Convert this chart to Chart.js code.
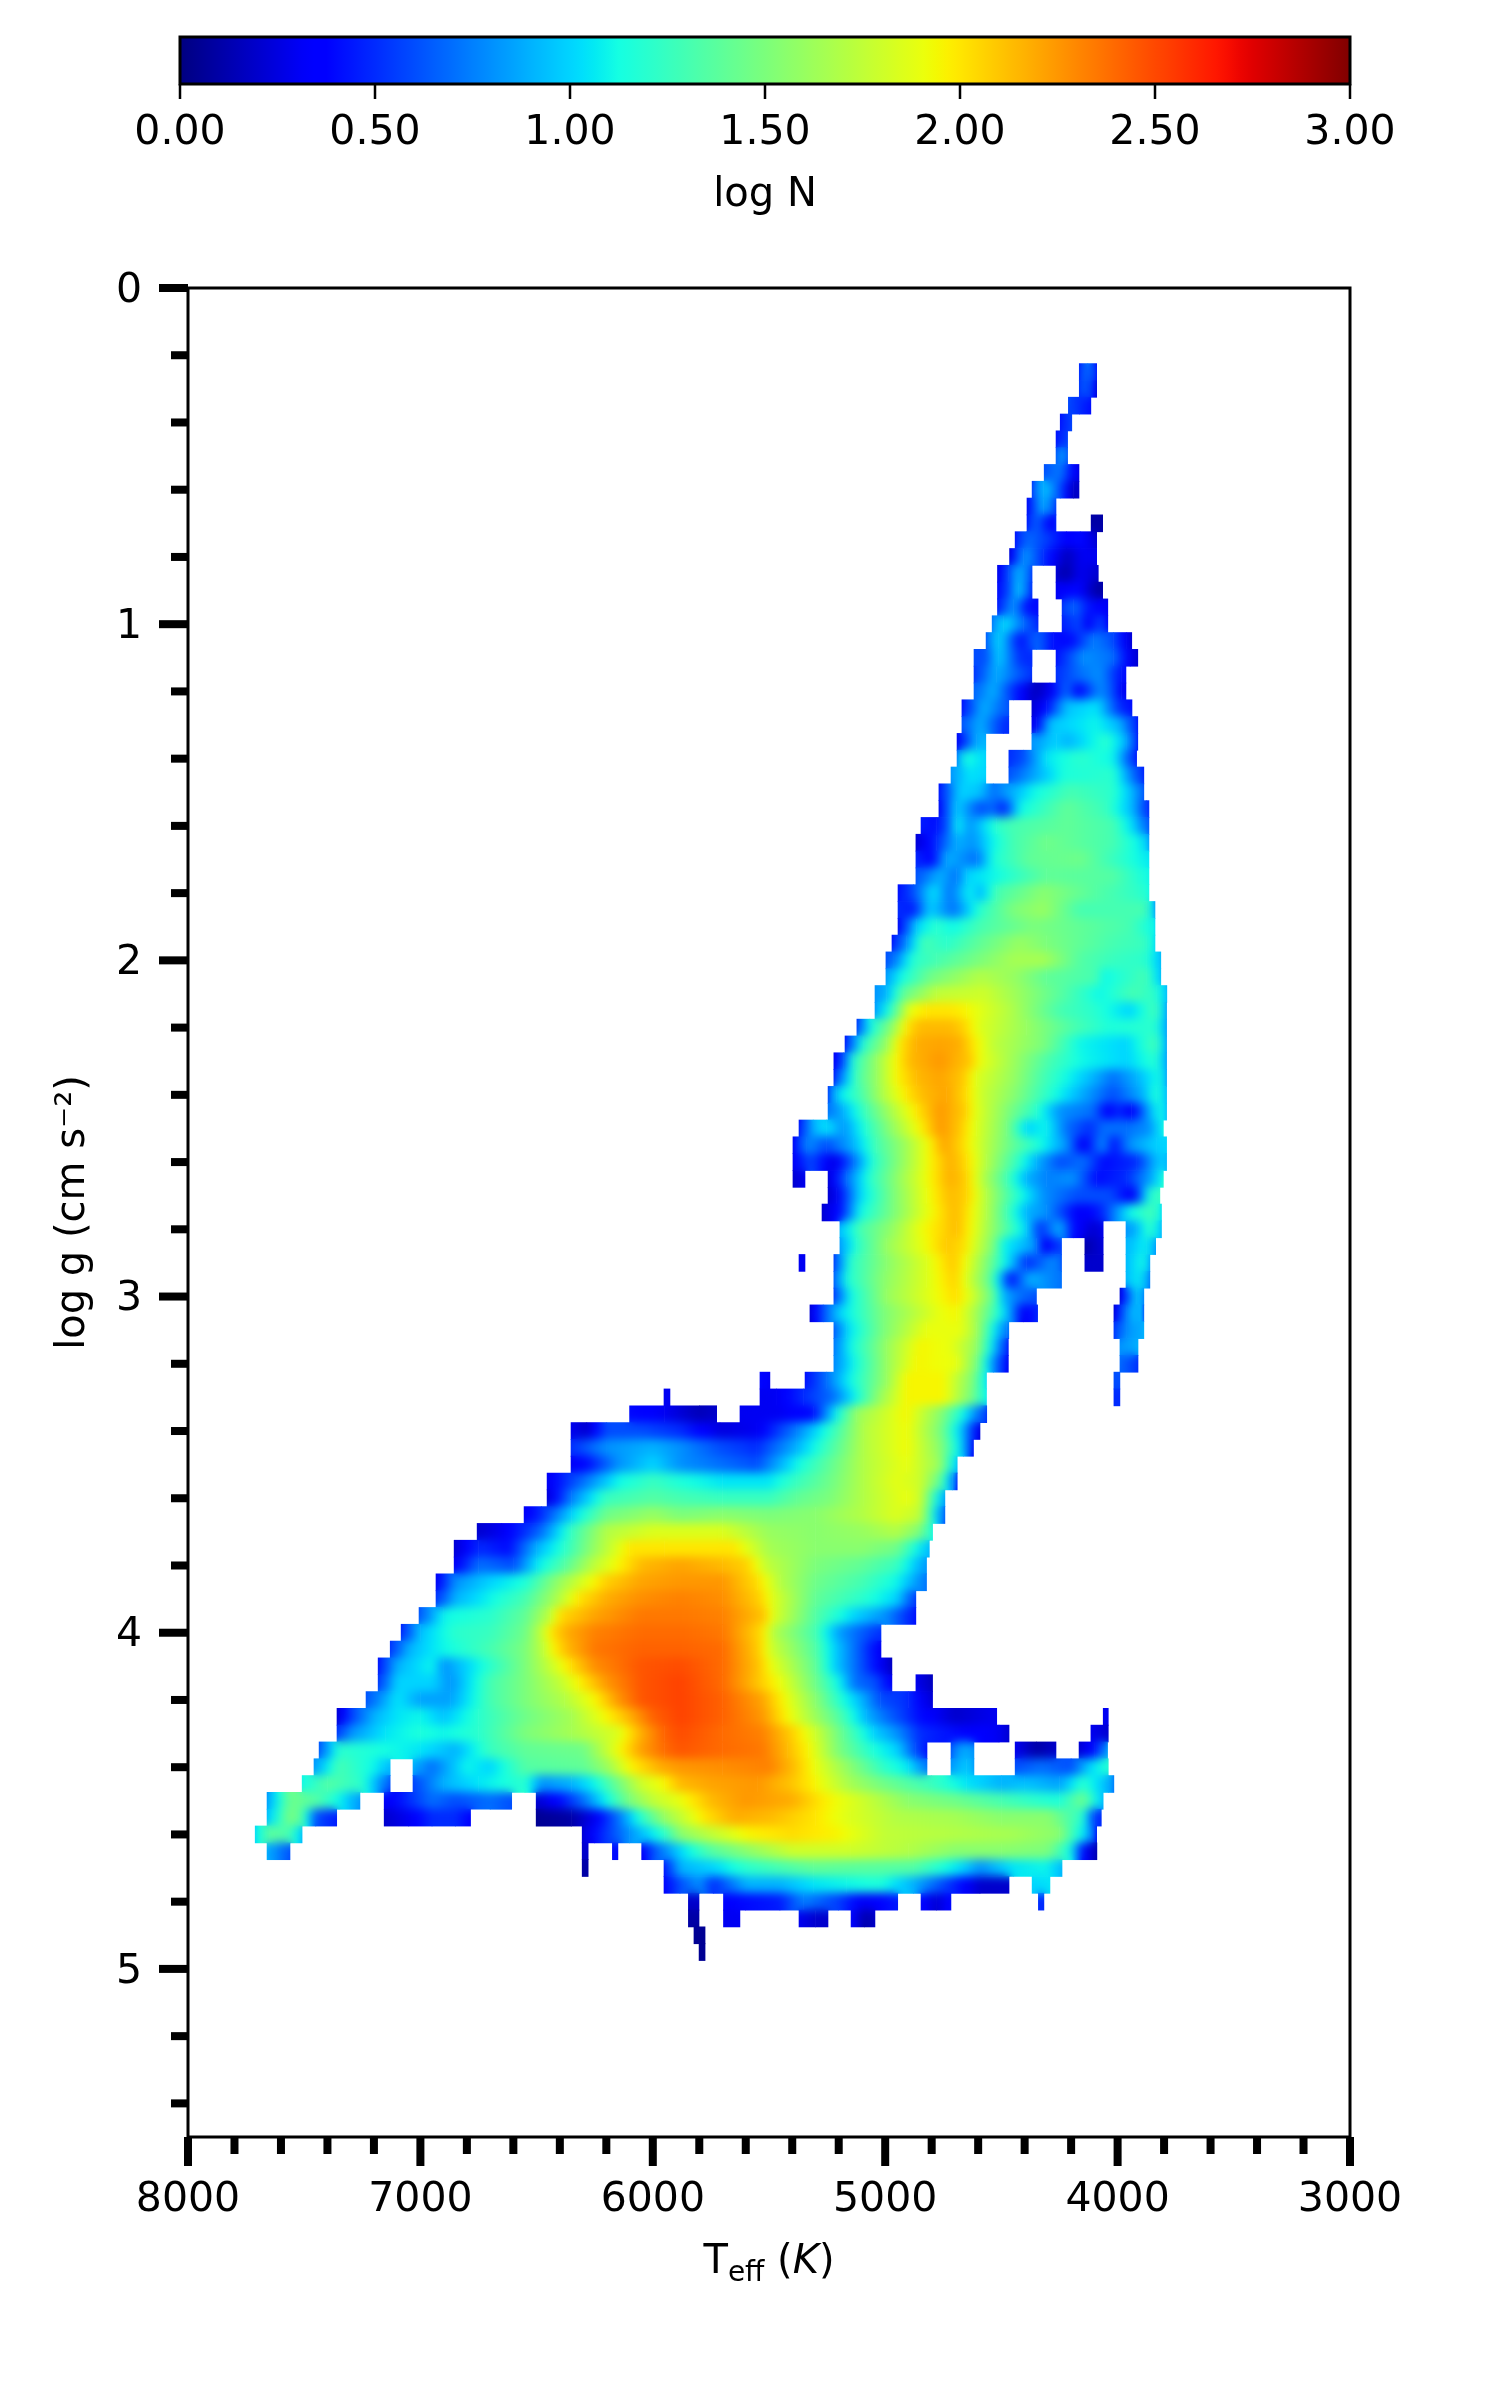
<!DOCTYPE html>
<html>
<head>
<meta charset="utf-8">
<script src="https://cdn.jsdelivr.net/npm/chart.js@4/dist/chart.umd.js"></script>
<style>
  html, body { margin: 0; padding: 0; background: #fff; }
  #wrap { position: relative; width: 1500px; height: 2400px; }
  canvas { position: absolute; left: 0; top: 0; }
</style>
</head>
<body>
<div id="wrap">
  <canvas id="main" width="1500" height="2400"></canvas>
  <canvas id="bar" width="1500" height="220"></canvas>
</div>
<script>
// one line per stretch of a log g row: Teff nodes (hot to cool) and the log N read at each node
const segLogg = [
  0.25, 0.30, 0.35, 0.40, 0.45, 0.50, 0.55, 0.60, 0.65, 0.70, 0.70, 0.75, 0.80, 0.85, 0.85, 0.90, 0.90,
  0.95, 0.95, 1.00, 1.00, 1.05, 1.10, 1.10, 1.15, 1.15, 1.20, 1.25, 1.25, 1.30, 1.30, 1.35, 1.35,
  1.40, 1.40, 1.45, 1.45, 1.50, 1.55, 1.60, 1.65, 1.70, 1.75, 1.80, 1.85, 1.90, 1.95, 2.00, 2.05, 2.10,
  2.15, 2.20, 2.25, 2.30, 2.35, 2.40, 2.45, 2.50, 2.55, 2.60, 2.65, 2.65, 2.70, 2.75,
  2.80, 2.80, 2.85, 2.85, 2.85, 2.90, 2.90, 2.90, 2.90, 2.95, 2.95, 3.00, 3.00, 3.05, 3.05, 3.10, 3.10,
  3.15, 3.15, 3.20, 3.20, 3.25, 3.25, 3.25, 3.30, 3.30, 3.30, 3.35, 3.35, 3.40, 3.45, 3.50, 3.55, 3.60,
  3.65, 3.70, 3.75, 3.80, 3.85, 3.90, 3.95, 4.00, 4.05, 4.10, 4.15, 4.15, 4.20, 4.25, 4.25,
  4.30, 4.30, 4.35, 4.35, 4.35, 4.35, 4.40, 4.40, 4.40, 4.40, 4.45, 4.45,
  4.50, 4.50, 4.50, 4.55, 4.55, 4.55, 4.60, 4.60, 4.65, 4.65, 4.65, 4.65,
  4.70, 4.70, 4.75, 4.75, 4.80, 4.80, 4.80, 4.80, 4.85, 4.85, 4.85, 4.85, 4.90, 4.95
];
const segTeff = [
  [4165,4128,4090],
  [4165,4128,4090],
  [4212,4165,4115],
  [4247,4197],
  [4265,4215],
  [4265,4240,4215],
  [4316,4247,4200,4166],
  [4368,4319,4247,4190,4166],
  [4390,4319,4265],
  [4390,4348,4290,4265],
  [4114,4064],
  [4441,4391,4305,4219,4161,4090],
  [4465,4405,4319,4219,4161,4090],
  [4517,4470,4420,4368],
  [4265,4226,4161,4083],
  [4517,4450,4427,4377,4368],
  [4265,4176,4090,4064],
  [4517,4448,4391,4342],
  [4239,4190,4133,4042],
  [4540,4491,4405,4342],
  [4239,4161,4133,4075,4042],
  [4566,4513,4420,4348,4276,4197,4104,4018,3961,3939],
  [4618,4566,4513,4420,4368],
  [4265,4147,4018,3946,3913],
  [4618,4521,4449,4369],
  [4265,4162,4076,3983,3964],
  [4618,4535,4449,4356,4291,4219,4169,4076,4019,3983,3964],
  [4670,4578,4468],
  [4369,4306,4219,4090,3990,3938],
  [4670,4592,4492,4468],
  [4369,4349,4291,4090,3990,3925,3913],
  [4691,4607,4567],
  [4369,4263,4219,4047,3961,3913],
  [4691,4657,4567],
  [4468,4406,4306,4162,4019,3918],
  [4717,4640,4567],
  [4468,4363,4234,4019,3933,3887],
  [4769,4678,4592,4535,4363,4205,4019,3933,3887],
  [4769,4693,4592,4535,4492,4420,4219,4047,3933,3875,3865],
  [4846,4779,4721,4693,4635,4521,4449,4219,4019,3933,3865],
  [4868,4779,4693,4621,4535,4449,4306,4019,3890,3865],
  [4868,4800,4736,4607,4535,4377,4162,4019,3865],
  [4868,4765,4693,4650,4535,4306,4019,3865],
  [4945,4879,4793,4721,4635,4592,4521,4320,4090,3890,3865],
  [4945,4879,4808,4707,4592,4449,4320,4162,3875,3839],
  [4945,4865,4779,4707,4592,4363,4162,3947,3847,3839],
  [4971,4908,4836,4736,4592,4420,4306,4019,3875,3839],
  [4997,4965,4879,4779,4592,4449,4320,4162,4019,3875,3814],
  [4997,4937,4808,4592,4449,4306,4090,4062,3875,3814],
  [5044,4994,4922,4779,4578,4420,4234,4076,3933,3832,3788],
  [5044,4965,4894,4822,4721,4650,4464,4248,4105,3947,3832,3789],
  [5122,5066,4965,4908,4851,4721,4664,4592,4392,4176,4033,3832,3789],
  [5173,5094,4994,4937,4865,4764,4678,4621,4535,4320,4162,3961,3832,3789],
  [5221,5180,5137,5037,4951,4894,4764,4635,4592,4463,4291,4148,3961,3832,3789],
  [5221,5195,5123,5037,4951,4865,4764,4664,4607,4449,4320,4105,4019,3918,3818,3789],
  [5246,5209,5109,5008,4908,4836,4736,4650,4592,4449,4277,4162,4019,3890,3832,3789],
  [5246,5180,5080,4965,4865,4764,4650,4621,4506,4349,4248,4105,4047,3990,3940,3861,3818,3789],
  [5371,5310,5252,5180,5080,4965,4836,4764,4678,4607,4478,4392,4306,4219,4119,4062,3961,3861,3803],
  [5397,5338,5252,5137,5037,4922,4808,4750,4678,4578,4449,4320,4219,4148,4062,4019,3947,3832,3789],
  [5397,5324,5221,5137,5051,4922,4808,4721,4650,4564,4449,4349,4248,4148,4062,3918,3818,3789],
  [5397,5345],
  [5246,5166,5066,4922,4808,4721,4650,4578,4478,4392,4306,4191,4091,3961,3847,3803],
  [5246,5209,5109,4965,4822,4721,4650,4564,4463,4320,4176,4033,3933,3861,3818],
  [5272,5195,5109,4965,4836,4707,4664,4564,4478,4392,4306,4219,4162,4105,4062,3947,3847,3811],
  [5195,5109,4965,4851,4693,4635,4520,4392,4334,4248,4191,4105,4062],
  [3964,3918,3861,3811],
  [5195,5123,4994,4836,4736,4664,4535,4492,4349,4320,4241],
  [4141,4062],
  [3964,3875,3836],
  [5221,5152,4994,4822,4707,4650,4549,4449,4392,4277,4241],
  [5371,5345],
  [4141,4062],
  [3964,3890,3861],
  [5221,5166,5008,4822,4700,4650,4549,4492,4463,4377,4241],
  [3964,3904,3861],
  [5221,5152,4994,4793,4693,4621,4535,4492,4420,4349],
  [3990,3918,3887],
  [5324,5267,5195,5008,4764,4693,4621,4535,4463,4406,4344],
  [4016,3961,3904,3887],
  [5221,5166,5008,4822,4678,4607,4535,4478,4468],
  [4016,3961,3887],
  [5221,5152,4994,4851,4721,4607,4535,4470],
  [3990,3912],
  [5221,5137,4994,4865,4693,4607,4535,4470],
  [3990,3912],
  [5539,5496],
  [5345,5252,5152,4994,4908,4750,4621,4564],
  [4016,3990],
  [5539,5467,5352,5224,5152,5023,4908,4750,4621,4564],
  [5952,5926],
  [4016,3990],
  [6100,5950,5800,5725],
  [5625,5453,5309,5209,5123,4908,4764,4664,4563],
  [6352,6284,6198,6055,5883,5711,5553,5381,5238,5094,4908,4764,4664,4592],
  [6352,6200,6000,5883,5711,5553,5381,5238,5094,4908,4764,4664,4620],
  [6352,6284,6150,6000,5883,5711,5553,5381,5238,5094,4908,4764,4690],
  [6455,6300,6150,6000,5883,5700,5500,5381,5238,5094,4950,4850,4764,4710,4690],
  [6455,6350,6200,6000,5883,5700,5500,5381,5238,5094,4908,4850,4743],
  [6554,6480,6350,6200,6000,5883,5700,5500,5300,5100,4950,4850,4743],
  [6756,6650,6554,6480,6350,6200,6000,5883,5700,5500,5300,5100,4950,4850,4796],
  [6855,6750,6620,6500,6380,6250,6100,5950,5800,5650,5500,5300,5100,4950,4810],
  [6855,6750,6600,6500,6380,6250,6150,6050,5883,5700,5596,5510,5300,5100,4950,4822],
  [6933,6850,6700,6550,6420,6300,6200,6050,5883,5700,5550,5450,5300,5100,4950,4822],
  [6933,6850,6700,6550,6420,6320,6200,6050,5883,5700,5540,5480,5300,5100,4950,4868],
  [7006,6900,6700,6550,6440,6400,6250,6050,5883,5700,5520,5480,5300,5130,5000,4868],
  [7083,7000,6850,6700,6550,6480,6430,6370,6250,6050,5883,5700,5530,5480,5300,5200,5130,5018],
  [7130,7050,6950,6850,6700,6550,6470,6430,6370,6250,6050,5883,5700,5540,5490,5300,5220,5130,5018],
  [7182,7100,6950,6900,6700,6550,6450,6350,6250,6050,5883,5700,5540,5490,5300,5220,5130,5040,4971],
  [7182,7100,6950,6870,6700,6550,6400,6320,6200,6050,5883,5700,5530,5450,5300,5200,5130,5040,4971],
  [4868,4796],
  [7234,7100,7000,6870,6700,6550,6380,6250,6150,6050,5883,5700,5530,5440,5300,5200,5100,5020,4900,4796],
  [7359,7300,7200,7100,7000,6900,6750,6550,6350,6200,6127,6000,5883,5700,5530,5440,5350,5200,5080,5000,4850,4700,4520],
  [4062,4040],
  [7359,7300,7150,7000,6900,6750,6550,6350,6150,6050,5950,5883,5700,5530,5400,5300,5180,5050,4950,4850,4700,4510,4467],
  [4115,4040],
  [7436,7350,7200,7000,6850,6700,6550,6300,6155,6055,5950,5883,5700,5530,5420,5330,5200,5050,4950,4870,4820],
  [4717,4670,4618],
  [4441,4350,4265],
  [4166,4100,4043],
  [7458,7350,7200,7130],
  [7032,6950,6800,6700,6550,6300,6200,6098,5969,5883,5700,5500,5380,5300,5150,5000,4900,4820],
  [4717,4650,4618],
  [4441,4330,4200,4120,4040],
  [7509,7400,7250,7130],
  [7032,6900,6750,6550,6480,6350,6250,6150,6050,5950,5883,5750,5550,5400,5300,5150,5000,4800,4650,4500,4400,4250,4150,4040,4016],
  [7660,7560,7450,7350,7260],
  [7156,7050,6950,6850,6700,6607],
  [6502,6400,6300,6200,6100,6000,5883,5750,5600,5400,5280,5100,4900,4700,4500,4350,4250,4150,4062],
  [7660,7560,7510,7450,7360],
  [7156,7050,6950,6850,6784],
  [6502,6350,6250,6150,6050,5950,5883,5780,5650,5500,5300,5150,4950,4700,4500,4300,4150,4100,4070],
  [7711,7650,7560,7509],
  [6304,6250,6100,5950,5883,5750,5600,5400,5200,5000,4700,4450,4250,4120,4090],
  [7660,7561],
  [6304,6278],
  [6174,6150],
  [6048,6000,5883,5750,5600,5400,5150,4900,4700,4500,4300,4200,4150,4089],
  [6304,6278],
  [5952,5883,5740,5596,5309,4879,4664,4592,4449,4305,4239],
  [5952,5883,5800,5740,5596,5453,5309,5166,5022,4879,4735,4592,4467],
  [4368,4291],
  [5847,5801],
  [5696,5600,5453,5352,5200,5090,4946],
  [4846,4780,4717],
  [4341,4317],
  [5847,5801],
  [5696,5625],
  [5371,5300,5246],
  [5147,5090,5044],
  [5823,5775],
  [5801,5775]
];
const segLogN = [
  [.45,.75,.4],
  [.5,.7,.2],
  [.6,.5,.4],
  [.4,.6],
  [.4,.6],
  [.6,.85,.6],
  [.6,.75,.4,.25],
  [.5,1,.6,.15,.2],
  [.3,.95,.5],
  [.4,.7,.3,.5],
  [.1,.1],
  [.4,.7,.55,.35,.4,.2],
  [.2,.85,.5,.15,.3,.3],
  [.25,.6,.95,.5],
  [.25,.1,.3,.2],
  [.35,.7,1.05,.5,.5],
  [.3,.4,.1,.1],
  [.4,.85,.4,.4],
  [.5,.7,.45,.3],
  [.7,1.05,.7,.45],
  [.45,.6,.3,.6,.3],
  [.6,1.05,.4,.7,.4,.4,.75,.6,.3,.2],
  [.6,.6,1,.5,.5],
  [.4,.8,.7,.3,.2],
  [.5,.9,.7,.5],
  [.5,.7,.8,.4,.4],
  [.65,.9,.5,.15,.3,.7,.35,.8,.6,.3,.3],
  [.4,.9,.6],
  [.2,.4,.95,1.05,.5,.4],
  [.6,.9,.5,.5],
  [.3,.3,.95,1.1,.9,.5,.4],
  [.3,.9,.9],
  [.8,1,.9,1.2,.9,.4],
  [.7,1.15,1],
  [.5,.6,1.05,1.2,1.1,.4],
  [.8,1.05,1],
  [.6,.85,1.15,1.2,.7,.45],
  [.4,1,.95,.7,1.1,1.3,1.2,.9,.6],
  [.3,1,.6,.7,.45,1.1,1.4,1.25,.9,.5,.5],
  [.45,.4,.7,1.1,.8,1.2,1.3,1.4,1.3,1,.6],
  [.2,.5,.9,.8,1.1,1.3,1.45,1.3,1.05,.8],
  [.5,.35,.9,.7,1.15,1.4,1.45,1.25,1.05],
  [.6,.9,.7,1,1.1,1.4,1.35,1.1],
  [.4,.6,1.05,.7,1.1,.9,1.3,1.55,1.35,1.2,1.1],
  [.5,.45,1,.7,1.2,1.5,1.6,1.3,1.3,.8],
  [.3,1,1.2,1.1,1.3,1.5,1.4,1.3,1.1,1],
  [.4,.8,1.3,1.2,1.4,1.6,1.5,1.3,1.25,1],
  [.6,.7,1.2,1.3,1.5,1.65,1.65,1.35,1.25,1.2,.9],
  [.8,1.1,1.45,1.7,1.6,1.4,1.3,1.1,1.3,.9],
  [.8,.9,1.4,1.75,1.8,1.6,1.35,1.1,1.3,1.2,.9],
  [.8,1.3,1.9,2,2,1.95,1.7,1.3,1.2,1,1.3,.8],
  [.5,1.1,1.6,2,2.14,2.14,2.07,1.85,1.6,1.3,1.15,1.2,.8],
  [.4,1.2,1.6,2,2.18,2.21,2.18,2,1.75,1.5,1.1,1,1.3,.8],
  [.3,.6,1.2,1.6,1.95,2.14,2.25,2.1,1.9,1.65,1.3,1.1,1,1.2,.8],
  [.4,.7,1.3,1.6,1.95,2.14,2.21,2.1,1.85,1.6,1.3,.9,.7,.9,1.15,.8],
  [.5,1,1.3,1.7,2,2.14,2.21,2.03,1.8,1.55,1.15,.9,.6,.9,1.2,.9],
  [.7,.9,1.3,1.7,2,2.25,2.07,1.9,1.6,1.2,.8,.7,.35,.5,.3,.9,1.15,.9],
  [.4,.9,1.05,.8,1.2,1.6,2,2.25,2.1,1.85,1.5,1,1.1,.7,.5,.7,.7,.8,1.15],
  [.3,.8,.6,.9,1.3,1.6,1.95,2.21,2.07,1.75,1.4,1.1,.8,.3,.8,.4,.8,1,1],
  [.3,.6,.25,.7,1.2,1.6,1.95,2.18,2.03,1.7,1.3,.9,.6,.7,.4,.5,1,.9],
  [.2,.3],
  [.2,.7,1.2,1.65,1.95,2.18,2.07,1.7,1.3,.9,.75,.8,.4,.5,.9,1.2],
  [.2,.3,1,1.5,1.9,2.14,2.07,1.7,1.3,.8,.6,.6,.3,1.2,1.25],
  [.2,.4,1.1,1.5,1.85,2.14,2.07,1.7,1.3,.9,.8,.5,.3,.4,.5,1.1,1.3,1],
  [.9,1.3,1.6,1.9,2.14,1.95,1.5,1,.5,.9,.4,.2,.3],
  [.8,.9,1.25,.9],
  [.8,1.2,1.6,1.9,2.1,2.03,1.5,1.1,.8,.3,.6],
  [.1,.25],
  [.9,1.1,.8],
  [.5,1.2,1.55,1.85,2.1,1.9,1.45,.9,.5,.8,.6],
  [.3,.3],
  [.2,.2],
  [.9,1.15,.8],
  [.6,1.15,1.55,1.85,2.07,1.85,1.4,.8,.4,.9,.7],
  [.9,1.1,.7],
  [.5,1.1,1.6,1.9,2.03,1.8,1.4,.9,.7,.6],
  [.2,1.05,.7],
  [.2,.6,1,1.5,1.9,1.95,1.7,1.3,.85,.3,.5],
  [.2,.8,1,.5],
  [.6,1,1.5,1.9,1.9,1.65,1.1,.7,.7],
  [.5,.8,.9],
  [.7,1.1,1.6,1.95,1.9,1.6,1,.4],
  [.8,.9],
  [.75,1.1,1.6,1.95,1.9,1.5,.8,.3],
  [.7,.5],
  [.4,.3],
  [.4,.7,1.1,1.6,1.95,1.95,1.5,1],
  [.6,.6],
  [.3,.3,.5,.7,1,1.6,1.95,1.95,1.45,1.05],
  [.3,.3],
  [.5,.5],
  [.4,.3,.15,.2],
  [.3,.3,.4,1.1,1.6,1.95,1.55,1.1,.5],
  [.3,.2,.6,.6,.5,.25,.3,.75,1.2,1.7,1.93,1.5,.9,.2],
  [.5,.8,.9,.8,.6,.5,.9,1.3,1.7,1.93,1.55,.95,.3],
  [.3,.4,.8,1,.8,.7,.6,1.1,1.4,1.7,1.9,1.6,.9],
  [.3,.7,1.1,1.25,1.15,1.05,1.05,1.25,1.45,1.7,1.88,1.8,1.4,.8,.4],
  [.2,.75,1.25,1.35,1.3,1.25,1.25,1.4,1.5,1.7,1.9,1.8,.8],
  [.3,.5,1,1.45,1.6,1.5,1.55,1.5,1.55,1.7,1.85,1.75,.6],
  [.2,.3,.5,.7,1.25,1.7,1.85,1.85,1.85,1.6,1.55,1.6,1.7,1.5,1.1],
  [.2,.5,.4,.9,1.2,1.6,2,2,2,2,1.65,1.55,1.55,1.45,.9],
  [.3,.7,.6,1.05,1.35,1.75,1.95,2.14,2.21,2.14,2.07,1.75,1.5,1.4,1.25,.8],
  [.3,.8,1,1.15,1.55,1.85,2.07,2.21,2.25,2.25,2.03,1.7,1.45,1.3,1.1,.7],
  [.5,.9,1.1,1.3,1.65,2,2.18,2.28,2.32,2.28,2.07,1.85,1.4,1.2,1,.5],
  [.6,1.1,1.2,1.4,1.75,2.03,2.21,2.35,2.35,2.32,2.1,1.85,1.35,1,.8,.4],
  [.45,.95,1.2,1.25,1.45,1.75,2.03,2.18,2.32,2.39,2.39,2.35,2.03,1.7,1.3,.85,.7,.5],
  [.5,.9,1.05,1.15,1.3,1.5,1.75,1.95,2.14,2.35,2.42,2.42,2.39,2.07,1.8,1.35,1,.7,.3],
  [.4,.9,1.1,.8,1.2,1.5,1.75,2.03,2.28,2.46,2.49,2.39,2.1,1.9,1.4,1,.7,.4,.15],
  [.5,1,1,.8,1.3,1.5,1.75,1.95,2.25,2.46,2.52,2.39,2.07,1.9,1.45,1.1,.7,.6,.3],
  [.3,.15],
  [.6,1.05,.85,.85,1.3,1.5,1.7,1.95,2.25,2.46,2.52,2.42,2.21,1.95,1.55,1.2,.9,.6,.5,.2],
  [.2,.55,.9,1.05,1.1,.95,1.2,1.45,1.65,1.95,2.1,2.42,2.52,2.42,2.25,2,1.75,1.35,.9,.7,.4,.2,.3],
  [.3,.3],
  [.5,.8,1.05,1.15,1.1,1.2,1.5,1.65,1.85,2.18,2.42,2.49,2.39,2.32,2.07,1.8,1.4,1,.8,.5,.4,.3,.2],
  [.3,.2],
  [.6,1.2,1.15,1.05,.9,1.25,1.4,1.45,1.9,2.21,2.39,2.46,2.39,2.35,2.14,1.95,1.5,1.15,1,.6,.4],
  [.6,.9,.8],
  [.3,.1,.2],
  [.2,.4,.9],
  [.8,1.3,1.1,.9],
  [.9,.7,1.1,1,1.35,1.4,1.6,1.95,2.18,2.25,2.28,2.32,2.1,1.9,1.55,1.2,1.05,.7],
  [.8,1,.8],
  [.6,.7,.6,1,1.2],
  [1.1,1.35,1.2,.6],
  [.55,.9,1.05,1.2,.8,.9,1.1,1.45,1.8,1.95,2.14,2.21,2.25,2.1,1.95,1.65,1.45,1.25,1.05,.9,.95,.85,1.2,.9,.7],
  [.8,1.45,1.35,1.1,.8],
  [.3,.5,.7,.6,.7,.6],
  [.2,.4,.7,1.1,1.5,1.75,1.9,2.14,2.25,2.18,2,1.8,1.55,1.45,1.3,1.2,1.15,1.45,.9],
  [.9,1.5,1.35,.6,.45],
  [.2,.3,.5,.5,.35],
  [.05,.1,.3,.7,1.2,1.6,1.75,2,2.18,2.14,2,1.85,1.7,1.65,1.55,1.55,1.2,.5,.5],
  [1,1.4,1.3,.9],
  [.2,.4,.8,1.2,1.55,1.75,1.95,2.03,1.95,1.75,1.7,1.65,1.55,.9,.3],
  [.9,.6],
  [.2,.2],
  [.4,.4],
  [.3,.6,1,1.35,1.55,1.8,1.8,1.7,1.55,1.55,1.5,1.1,.4,.1],
  [.1,.1],
  [.4,.9,1,1.2,1.4,1.35,1,.8,1.05,1.1,.9],
  [.35,.6,.8,.5,.9,.9,1.05,1.1,1.15,.9,.55,.2,.2],
  [1,1.05],
  [.2,.2],
  [.35,.4,.45,.75,.55,.3,.45],
  [.4,.2,.4],
  [.5,.5],
  [.1,.1],
  [.3,.3],
  [.3,.2,.2],
  [.4,.1,.2],
  [.05,.05],
  [.05,.05]
];
const xMajor = 1000;
const cbarTicks = [0, 0.5, 1, 1.5, 2, 2.5, 3];

const fontName = "'DejaVu Sans'";

// same breakpoints as matplotlib jet, v goes from 0 to 1
function jet(v) {
    v = Math.max(0, Math.min(1, v));
    function lerp(pts) {
        for (let i = 1; i < pts.length; i++) {
            if (v <= pts[i][0]) {
                const t = (v - pts[i-1][0]) / (pts[i][0] - pts[i-1][0]);
                return pts[i-1][1] + t * (pts[i][1] - pts[i-1][1]);
            }
        }
        return pts[pts.length-1][1];
    }
    const r = lerp([[0,0],[.35,0],[.66,1],[.89,1],[1,.5]]);
    const g = lerp([[0,0],[.125,0],[.375,1],[.64,1],[.91,0],[1,0]]);
    const b = lerp([[0,.5],[.11,1],[.34,1],[.65,0],[1,0]]);
    return 'rgb(' + Math.round(r*255) + ',' + Math.round(g*255) + ',' + Math.round(b*255) + ')';
}

function logNGradient(chart, t0, t1, a, b, steps) {
    const x = chart.scales.x;
    const p0 = x.getPixelForValue(t0), p1 = x.getPixelForValue(t1);
    // options also get resolved before the first layout, nothing to paint yet then
    if (!isFinite(p0) || !isFinite(p1)) return 'rgba(0,0,0,0)';
    const grad = chart.ctx.createLinearGradient(p0, 0, p1, 0);
    for (let k = 0; k <= steps; k++) {
        grad.addColorStop(k / steps, jet((a + (b - a) * k / steps) / 3));
    }
    return grad;
}

// the reference image is interpolated: soften inside the silhouette, keep its hard edge
const softenCells = {
    id: 'softenCells',
    afterDatasetsDraw(chart) {
        const a = chart.chartArea;
        const w = a.right - a.left, h = a.bottom - a.top;
        const tmp = document.createElement('canvas');
        tmp.width = w;
        tmp.height = h;
        tmp.getContext('2d').drawImage(chart.canvas, a.left, a.top, w, h, 0, 0, w, h);
        const c = chart.ctx;
        c.save();
        c.globalCompositeOperation = 'source-atop';
        c.filter = 'blur(5px)';
        c.drawImage(tmp, a.left, a.top);
        c.restore();
    }
};

// black frame and the matplotlib style ticks, major and minor
const frameAndTicks = {
    id: 'frameAndTicks',
    afterDraw(chart, args, opts) {
        const c = chart.ctx, area = chart.chartArea;
        c.save();
        c.strokeStyle = '#000';
        c.lineWidth = opts.frame;
        c.strokeRect(area.left, area.top, area.right - area.left, area.bottom - area.top);
        c.fillStyle = '#000';
        chart.scales.x.ticks.forEach(t => {
            const px = chart.scales.x.getPixelForValue(t.value);
            const major = t.value % opts.xMajor === 0;
            c.fillRect(px - opts.width / 2, area.bottom, opts.width, major ? opts.major : opts.minor);
        });
        if (opts.yAxis) {
            chart.scales.y.ticks.forEach(t => {
                const py = chart.scales.y.getPixelForValue(t.value);
                const major = Math.abs(t.value - Math.round(t.value)) < 1e-6;
                const len = major ? opts.major : opts.minor;
                c.fillRect(area.left - len, py - opts.width / 2, len, opts.width);
            });
        }
        c.restore();
    }
};

// Teff label has a subscript and an italic K, a plain axis title can't do that
const teffLabel = {
    id: 'teffLabel',
    afterDraw(chart) {
        const c = chart.ctx;
        const parts = [
            { t: 'T', f: "40px " + fontName, dy: 0 },
            { t: 'eff', f: "28px " + fontName, dy: 8 },
            { t: ' (', f: "40px " + fontName, dy: 0 },
            { t: 'K', f: "italic 40px " + fontName, dy: 0 },
            { t: ')', f: "40px " + fontName, dy: 0 }
        ];
        c.save();
        c.fillStyle = '#000';
        c.textBaseline = 'alphabetic';
        c.textAlign = 'left';
        let w = 0;
        parts.forEach(p => { c.font = p.f; w += c.measureText(p.t).width; });
        let x = 769 - w / 2;
        parts.forEach(p => {
            c.font = p.f;
            c.fillText(p.t, x, 2273 + p.dy);
            x += c.measureText(p.t).width;
        });
        c.restore();
    }
};

const cells = [];
segLogg.forEach((g, s) => {
    const t = segTeff[s], n = segLogN[s];
    for (let i = 0; i < t.length - 1; i++) {
        cells.push({ x: [t[i], t[i+1]], y: g, a: n[i], b: n[i+1] });
    }
});

const tickFont = { family: fontName, size: 41 };

new Chart(document.getElementById('main'), {
    type: 'bar',
    data: {
        datasets: [{
            data: cells,
            backgroundColor: ctx => {
                const r = ctx.raw;
                return logNGradient(ctx.chart, r.x[0], r.x[1], r.a, r.b, 6);
            },
            borderWidth: 0,
            barThickness: 17,
            inflateAmount: 0.3,
            grouped: false
        }]
    },
    options: {
        indexAxis: 'y',
        responsive: false,
        animation: false,
        events: [],
        layout: { padding: { top: 288, right: 150, left: 0, bottom: 0 } },
        plugins: {
            legend: { display: false },
            tooltip: { enabled: false },
            frameAndTicks: { frame: 3, width: 8, major: 29, minor: 17, xMajor: xMajor, yAxis: true }
        },
        scales: {
            x: {
                type: 'linear',
                reverse: true,
                min: 3000,
                max: 8000,
                afterFit: s => { s.height = 263; },
                grid: { display: false, drawTicks: false },
                border: { display: false },
                ticks: {
                    stepSize: 200,
                    autoSkip: false,
                    maxRotation: 0,
                    padding: 39,
                    color: '#000',
                    font: tickFont,
                    callback: v => (v % xMajor === 0 ? String(v) : '')
                }
            },
            y: {
                type: 'linear',
                reverse: true,
                min: 0,
                max: 5.5,
                offset: false,
                afterFit: s => { s.width = 188; },
                grid: { display: false, drawTicks: false },
                border: { display: false },
                title: {
                    display: true,
                    text: 'log g (cm s⁻²)',
                    color: '#000',
                    font: { family: fontName, size: 40 },
                    padding: { top: 50, bottom: 0 }
                },
                ticks: {
                    stepSize: 0.2,
                    includeBounds: false,
                    autoSkip: false,
                    padding: 46,
                    labelOffset: 3,
                    color: '#000',
                    font: tickFont,
                    callback: v => (Math.abs(v - Math.round(v)) < 1e-6 ? String(Math.round(v)) : '')
                }
            }
        }
    },
    plugins: [softenCells, frameAndTicks, teffLabel]
});

new Chart(document.getElementById('bar'), {
    type: 'bar',
    data: {
        datasets: [{
            data: [{ x: [cbarTicks[0], cbarTicks[cbarTicks.length - 1]], y: 0.5 }],
            backgroundColor: ctx => logNGradient(ctx.chart, 0, 3, 0, 3, 96),
            borderWidth: 0,
            barThickness: 60,
            grouped: false
        }]
    },
    options: {
        indexAxis: 'y',
        responsive: false,
        animation: false,
        events: [],
        layout: { padding: { top: 37, right: 150, left: 180, bottom: 0 } },
        plugins: {
            legend: { display: false },
            tooltip: { enabled: false },
            frameAndTicks: { frame: 3, width: 2.5, major: 15, minor: 15, xMajor: 0.5, yAxis: false }
        },
        scales: {
            x: {
                type: 'linear',
                min: 0,
                max: 3,
                afterFit: s => { s.height = 136; },
                grid: { display: false, drawTicks: false },
                border: { display: false },
                title: {
                    display: true,
                    text: 'log N',
                    color: '#000',
                    font: { family: fontName, size: 40 },
                    padding: { top: 0, bottom: 0 }
                },
                afterBuildTicks: s => { s.ticks = cbarTicks.map(v => ({ value: v })); },
                ticks: {
                    autoSkip: false,
                    maxRotation: 0,
                    padding: 25,
                    color: '#000',
                    font: tickFont,
                    callback: v => v.toFixed(2)
                }
            },
            y: { type: 'linear', display: false, min: 0, max: 1 }
        }
    },
    plugins: [frameAndTicks]
});
</script>
</body>
</html>
